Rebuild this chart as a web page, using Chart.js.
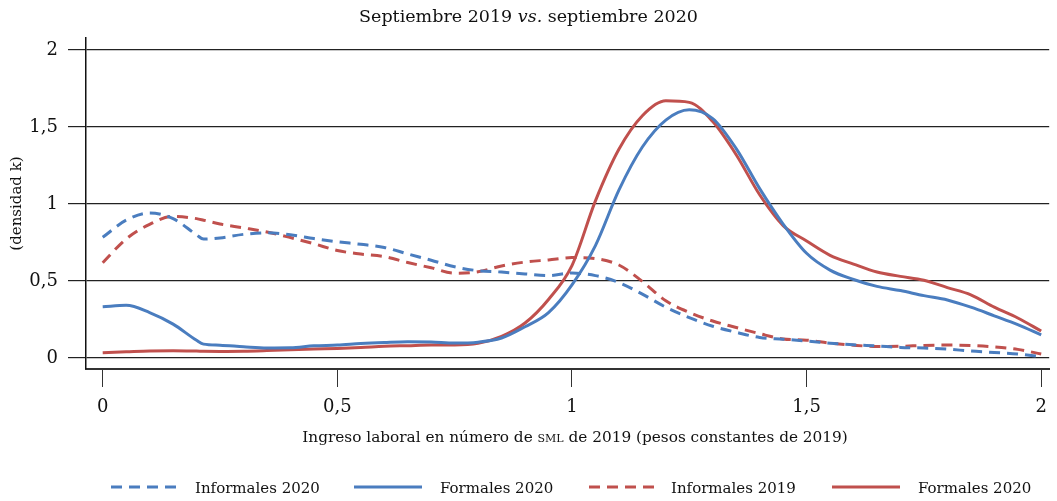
<!DOCTYPE html>
<html><head><meta charset="utf-8">
<script src="https://cdn.jsdelivr.net/npm/chart.js@4.4.0/dist/chart.umd.min.js"></script>
<style>
html,body{margin:0;padding:0;background:#fff;}
#wrap{position:relative;width:1057px;height:501px;font-family:"DejaVu Serif",serif;color:#111;overflow:hidden;}
#c{position:absolute;left:0;top:0;}
.t{position:absolute;white-space:nowrap;}
.sc{font-variant:small-caps;}
</style></head><body>
<div id="wrap">
<canvas id="c" width="1057" height="501"></canvas>
<div class="t" style="left:0;width:1057px;text-align:center;top:4px;font-size:17.5px;line-height:24px;">Septiembre 2019 <i>vs.</i> septiembre 2020</div>
<div class="t" style="left:0;width:1150px;text-align:center;top:427px;font-size:15.3px;line-height:20px;">Ingreso laboral en número de <span class="sc">sml</span> de 2019 (pesos constantes de 2019)</div>
<div id="legend"></div>
</div>
<script>
// ---- data ----
const xs = [0,0.05,0.1,0.15,0.2,0.215,0.25,0.3,0.35,0.4,0.45,0.5,0.55,0.6,0.65,0.7,0.75,0.8,0.85,0.9,0.95,1.0,1.05,1.1,1.15,1.2,1.25,1.3,1.35,1.4,1.45,1.5,1.55,1.6,1.65,1.7,1.75,1.8,1.85,1.9,1.95,2.0];
const informales2020 = [0.784,0.895,0.942,0.905,0.80,0.772,0.78,0.803,0.813,0.80,0.776,0.755,0.738,0.718,0.676,0.635,0.592,0.567,0.558,0.546,0.535,0.552,0.535,0.49,0.415,0.33,0.262,0.206,0.167,0.133,0.122,0.11,0.096,0.086,0.078,0.069,0.065,0.058,0.045,0.036,0.026,0.009];
const formales2020 = [0.333,0.342,0.295,0.22,0.115,0.09,0.083,0.073,0.065,0.066,0.079,0.084,0.094,0.101,0.106,0.104,0.097,0.103,0.13,0.203,0.295,0.475,0.73,1.09,1.37,1.545,1.612,1.555,1.36,1.10,0.87,0.68,0.571,0.51,0.465,0.438,0.405,0.377,0.33,0.274,0.217,0.15];
const informales2019 = [0.619,0.773,0.868,0.92,0.905,0.895,0.87,0.845,0.818,0.782,0.742,0.698,0.675,0.658,0.62,0.586,0.551,0.56,0.598,0.623,0.637,0.652,0.645,0.604,0.497,0.372,0.296,0.24,0.198,0.158,0.124,0.116,0.097,0.083,0.075,0.076,0.082,0.084,0.081,0.072,0.056,0.026];
const formales2019 = [0.034,0.04,0.046,0.047,0.045,0.044,0.043,0.044,0.048,0.053,0.058,0.062,0.068,0.076,0.08,0.084,0.084,0.095,0.14,0.227,0.38,0.6,1.02,1.355,1.573,1.67,1.66,1.535,1.32,1.06,0.86,0.76,0.667,0.61,0.558,0.53,0.505,0.457,0.41,0.33,0.26,0.175];
const seriesLabels = ['Informales 2020','Formales 2020','Informales 2019','Formales 2020'];
const xTicks = [0,0.5,1,1.5,2];
const yTicks = [0,0.5,1,1.5,2];

// ---- styles ----
const BLUE = '#4a7dbf', RED = '#c0504d';
const FONT = 'DejaVu Serif';
const DASH = [11,7];
const toPts = ys => xs.map((x,i)=>({x:x,y:ys[i]}));
const fmt = v => String(v).replace('.', ',');

const datasets = [
  {label:seriesLabels[0], data:toPts(informales2020), borderColor:BLUE, borderDash:DASH},
  {label:seriesLabels[1], data:toPts(formales2020), borderColor:BLUE, borderDash:[]},
  {label:seriesLabels[2], data:toPts(informales2019), borderColor:RED, borderDash:DASH},
  {label:seriesLabels[3], data:toPts(formales2019), borderColor:RED, borderDash:[]}
].map(d=>Object.assign(d,{borderWidth:3,pointRadius:0,fill:false,cubicInterpolationMode:'monotone',borderCapStyle:'butt'}));

const chart = new Chart(document.getElementById('c'), {
  type:'line',
  data:{datasets},
  options:{
    responsive:false, animation:false, devicePixelRatio:1,
    layout:{padding:{top:38,right:7,left:0,bottom:72}},
    plugins:{legend:{display:false}, title:{display:false}, tooltip:{enabled:false}},
    scales:{
      x:{type:'linear', min:-0.0356, max:2.017,
        afterBuildTicks:s=>{s.ticks=xTicks.map(v=>({value:v}));},
        afterFit:s=>{s.height=60;},
        grid:{drawOnChartArea:false, drawTicks:true, tickLength:18, color:'#333', lineWidth:1},
        border:{display:true, color:'#333', width:2},
        ticks:{font:{family:FONT,size:18}, color:'#111', padding:10, maxRotation:0, autoSkip:false, callback:v=>fmt(v)}
      },
      y:{type:'linear', min:-0.0714, max:2.078,
        afterBuildTicks:s=>{s.ticks=yTicks.map(v=>({value:v}));},
        afterFit:s=>{s.width=86;},
        grid:{drawTicks:true, tickLength:18, color:'#222', lineWidth:1.2},
        border:{display:true, color:'#111', width:1.5},
        ticks:{font:{family:FONT,size:18}, color:'#111', padding:10, autoSkip:false, callback:v=>fmt(v)},
        title:{display:true, text:'(densidad k)', font:{family:FONT,size:15}, color:'#111', padding:{top:8,bottom:0}}
      }
    }
  }
});

// ---- legend (built from the datasets) ----
const legendSampleX = [111,354,589,832];
const legendTextX = [195,440,671,918];
const lg = document.getElementById('legend');
chart.data.datasets.forEach((d,i)=>{
  const ns='http://www.w3.org/2000/svg';
  const svg=document.createElementNS(ns,'svg');
  svg.setAttribute('width','68'); svg.setAttribute('height','8');
  svg.style.cssText='position:absolute;top:483px;left:'+legendSampleX[i]+'px;';
  const ln=document.createElementNS(ns,'line');
  ln.setAttribute('x1','0');ln.setAttribute('x2','68');ln.setAttribute('y1','4');ln.setAttribute('y2','4');
  ln.setAttribute('stroke',d.borderColor);ln.setAttribute('stroke-width','3');
  if(d.borderDash.length) ln.setAttribute('stroke-dasharray',d.borderDash.join(' '));
  svg.appendChild(ln); lg.appendChild(svg);
  const t=document.createElement('div');
  t.className='t'; t.textContent=d.label;
  t.style.cssText='left:'+legendTextX[i]+'px;top:478px;font-size:15px;line-height:20px;';
  lg.appendChild(t);
});
</script>
</body></html>
